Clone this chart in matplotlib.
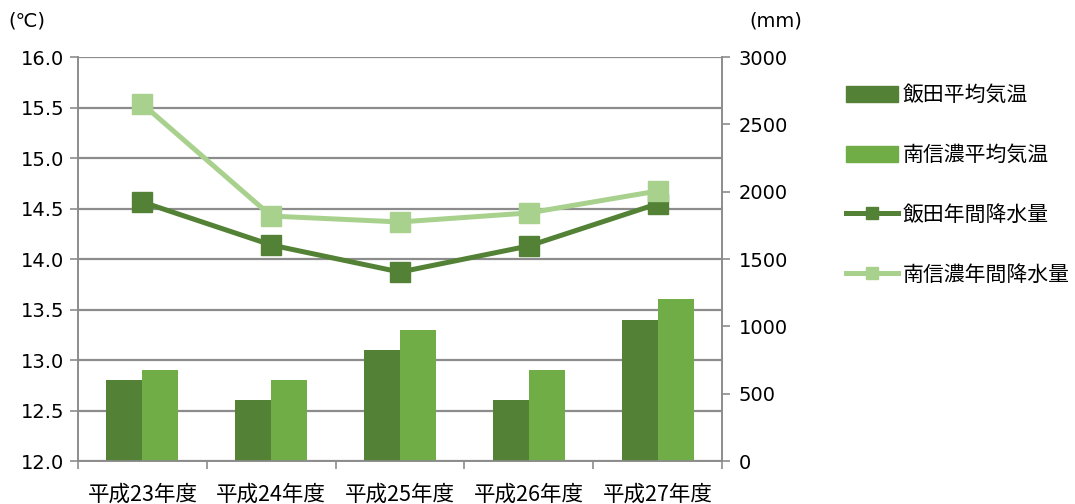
import matplotlib.pyplot as plt
import numpy as np
from matplotlib.lines import Line2D
from matplotlib.patches import Patch

plt.rcParams["font.family"] = ["DejaVu Sans", "Noto Sans CJK JP"]

years = ["平成23年度", "平成24年度", "平成25年度", "平成26年度", "平成27年度"]
iida_temp = [12.8, 12.6, 13.1, 12.6, 13.4]
minami_temp = [12.9, 12.8, 13.3, 12.9, 13.6]
iida_rain = [1923, 1604, 1403, 1597, 1910]
minami_rain = [2651, 1819, 1775, 1842, 2005]

dark = "#538135"
mid = "#70AD47"
light = "#A9D18E"
grid = "#8c8c8c"
fs = 14

fig = plt.figure(figsize=(10.75, 5.04), dpi=100)
ax = fig.add_axes([0.0726, 0.0853, 0.599, 0.8016])
ax2 = ax.twinx()

x = np.arange(len(years))
w = 0.28
ax.bar(x - w / 2, np.array(iida_temp) - 12, w, bottom=12, color=dark, zorder=3)
ax.bar(x + w / 2, np.array(minami_temp) - 12, w, bottom=12, color=mid, zorder=3)

ax.set_xlim(-0.5, 4.5)
ax.set_ylim(12, 16)
ax.set_yticks(np.arange(12, 16.01, 0.5))
ax.set_yticklabels([f"{v:.1f}" for v in np.arange(12, 16.01, 0.5)])
ax.yaxis.grid(True, color=grid, linewidth=1.6, zorder=0)
ax.set_axisbelow(True)
ax.set_xticks(x)
ax.set_xticklabels(years, family=["Noto Sans CJK JP"])
ax.set_xticks(np.arange(-0.5, 4.6, 1), minor=True)
ax.tick_params(axis="x", which="major", length=0, pad=16, labelsize=15.5)
ax.tick_params(axis="x", which="minor", length=6, color=grid, width=1.2)
ax.tick_params(axis="y", length=6, color=grid, width=1.2, labelsize=fs, pad=4)

ax2.plot(x, iida_rain, color=dark, linewidth=3.6, marker="s", markersize=14, zorder=4)
ax2.plot(x, minami_rain, color=light, linewidth=3.6, marker="s", markersize=14, zorder=4)
ax2.set_ylim(0, 3000)
ax2.set_yticks(range(0, 3001, 500))
ax2.tick_params(axis="y", length=6, color=grid, width=1.2, labelsize=fs, pad=6)

for a in (ax, ax2):
    a.spines["top"].set_visible(False)
    for side in ("left", "right", "bottom"):
        a.spines[side].set_color(grid)
        a.spines[side].set_linewidth(1.2)

fig.text(0.008, 0.958, "(℃)", fontsize=fs, va="center")
fig.text(0.697, 0.958, "(mm)", fontsize=fs, va="center")

handles = [
    Patch(color=dark),
    Patch(color=mid),
    Line2D([], [], color=dark, linewidth=3.6, marker="s", markersize=9),
    Line2D([], [], color=light, linewidth=3.6, marker="s", markersize=9),
]
labels = ["飯田平均気温", "南信濃平均気温", "飯田年間降水量", "南信濃年間降水量"]
fig.legend(handles, labels, loc="upper left", bbox_to_anchor=(0.7795, 0.850),
           frameon=False, prop={"family": "Noto Sans CJK JP", "size": 15},
           labelspacing=1.82, handlelength=2.5, handleheight=0.82,
           handletextpad=0.2, borderaxespad=0)

fig.savefig("out.png", dpi=100)
